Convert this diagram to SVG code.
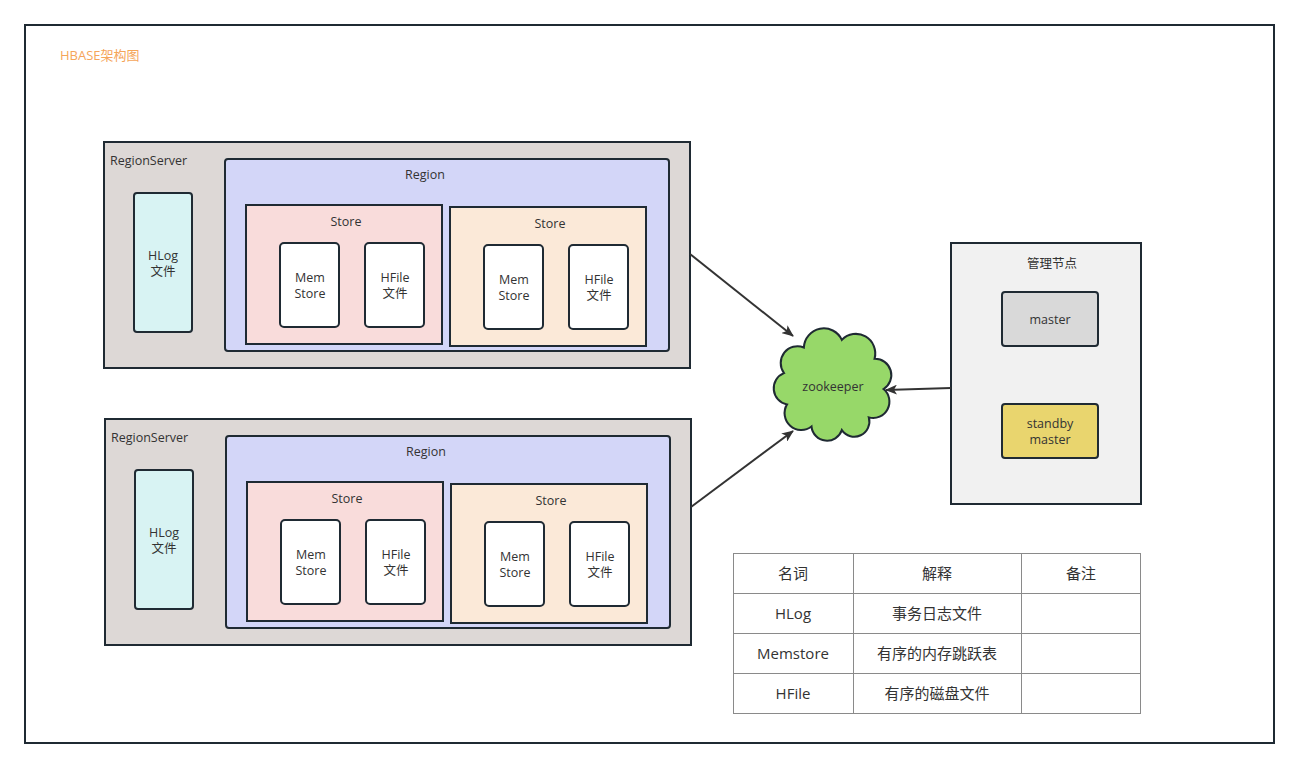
<svg xmlns="http://www.w3.org/2000/svg" width="1299" height="767" viewBox="0 0 1299 767">
<style>
text{font-family:"Open Sans","Noto Sans CJK SC",sans-serif;fill:#333;font-size:12.5px;text-anchor:middle}
.frame{fill:#fff;stroke:#1f2a33;stroke-width:2}
.rs{fill:#ddd8d6;stroke:#1f2a33;stroke-width:2}
.hlog{fill:#d8f3f3;stroke:#1f2a33;stroke-width:2}
.region{fill:#d3d6f8;stroke:#1f2a33;stroke-width:2}
.store1{fill:#f9dcdb;stroke:#1f2a33;stroke-width:2}
.store2{fill:#fbe9d8;stroke:#1f2a33;stroke-width:2}
.box{fill:#fff;stroke:#1f2a33;stroke-width:2}
.mgmt{fill:#f1f1f1;stroke:#1f2a33;stroke-width:2}
.conn{fill:none;stroke:#333;stroke-width:2}
.tbl{fill:none;stroke:#8a8a8a;stroke-width:1}
.tt{font-size:15px}
.l{text-anchor:start}
</style>
<defs>
<marker id="arr" viewBox="0 0 12 10" refX="11" refY="5" markerWidth="6" markerHeight="5" orient="auto" markerUnits="strokeWidth">
<path d="M0,0 L12,5 L0,10 L3,5 Z" fill="#333"/>
</marker>
</defs>
<rect class="frame" x="25" y="25" width="1249" height="718"/>
<text x="60" y="60" class="l" style="fill:#f5a55a;font-size:13px">HBASE架构图</text>

<g id="regionserver1">
<rect class="rs" x="104" y="142" width="586" height="226"/>
<text x="110" y="165" class="l">RegionServer</text>
<rect class="hlog" x="134" y="193" width="58" height="139" rx="3"/>
<text x="163" y="260">HLog</text><text x="163" y="276">文件</text>
<rect class="region" x="225" y="159" width="444" height="192" rx="3"/>
<text x="425" y="179">Region</text>
<rect class="store1" x="246" y="205" width="196" height="139"/>
<text x="346" y="226">Store</text>
<rect class="box" x="280" y="243" width="59" height="84" rx="4"/>
<text x="310" y="282">Mem</text><text x="310" y="298">Store</text>
<rect class="box" x="365" y="243" width="59" height="84" rx="4"/>
<text x="395" y="282">HFile</text><text x="395" y="298">文件</text>
<rect class="store2" x="450" y="207" width="196" height="139"/>
<text x="550" y="228">Store</text>
<rect class="box" x="484" y="245" width="59" height="84" rx="4"/>
<text x="514" y="284">Mem</text><text x="514" y="300">Store</text>
<rect class="box" x="569" y="245" width="59" height="84" rx="4"/>
<text x="599" y="284">HFile</text><text x="599" y="300">文件</text>
</g>

<g id="regionserver2" transform="translate(1,277)">
<rect class="rs" x="104" y="142" width="586" height="226"/>
<text x="110" y="165" class="l">RegionServer</text>
<rect class="hlog" x="134" y="193" width="58" height="139" rx="3"/>
<text x="163" y="260">HLog</text><text x="163" y="276">文件</text>
<rect class="region" x="225" y="159" width="444" height="192" rx="3"/>
<text x="425" y="179">Region</text>
<rect class="store1" x="246" y="205" width="196" height="139"/>
<text x="346" y="226">Store</text>
<rect class="box" x="280" y="243" width="59" height="84" rx="4"/>
<text x="310" y="282">Mem</text><text x="310" y="298">Store</text>
<rect class="box" x="365" y="243" width="59" height="84" rx="4"/>
<text x="395" y="282">HFile</text><text x="395" y="298">文件</text>
<rect class="store2" x="450" y="207" width="196" height="139"/>
<text x="550" y="228">Store</text>
<rect class="box" x="484" y="245" width="59" height="84" rx="4"/>
<text x="514" y="284">Mem</text><text x="514" y="300">Store</text>
<rect class="box" x="569" y="245" width="59" height="84" rx="4"/>
<text x="599" y="284">HFile</text><text x="599" y="300">文件</text>
</g>

<g id="zookeeper">
<path transform="translate(833,385) scale(1.08,1.09) translate(-833,-385)" d="M806,350.6 A18.5,18.5 0 0 1 841.2,343.6 A18,18 0 0 1 871.5,360.9 A15,15 0 0 1 879.8,388.7 A15,15 0 0 1 866.2,414.7 A14,14 0 0 1 841.2,426.4 A14.5,14.5 0 0 1 813.1,423.1 A15.5,15.5 0 0 1 790.4,402.8 A15,15 0 0 1 787.6,374.1 A15.5,15.5 0 0 1 806,350.6 Z" fill="#97d869" stroke="#1f2a33" stroke-width="1.9"/>
<text x="833" y="391">zookeeper</text>
</g>

<g id="mgmt">
<rect class="mgmt" x="951" y="243" width="190" height="261"/>
<text x="1052" y="268">管理节点</text>
<rect x="1002" y="292" width="96" height="54" rx="3" fill="#d9d9d9" stroke="#1f2a33" stroke-width="2"/>
<text x="1050" y="324">master</text>
<rect x="1002" y="404" width="96" height="54" rx="3" fill="#e9d56e" stroke="#1f2a33" stroke-width="2"/>
<text x="1050" y="428">standby</text><text x="1050" y="444">master</text>
</g>

<g id="connectors">
<line class="conn" x1="690" y1="254" x2="793" y2="336" marker-end="url(#arr)"/>
<line class="conn" x1="691" y1="507" x2="793" y2="431" marker-end="url(#arr)"/>
<line class="conn" x1="951" y1="388" x2="886" y2="390" marker-end="url(#arr)"/>
</g>

<g id="table">
<rect class="tbl" x="733.5" y="553.5" width="407" height="160"/>
<line class="tbl" x1="853.5" y1="553.5" x2="853.5" y2="713.5"/>
<line class="tbl" x1="1021.5" y1="553.5" x2="1021.5" y2="713.5"/>
<line class="tbl" x1="733.5" y1="593.5" x2="1140.5" y2="593.5"/>
<line class="tbl" x1="733.5" y1="633.5" x2="1140.5" y2="633.5"/>
<line class="tbl" x1="733.5" y1="673.5" x2="1140.5" y2="673.5"/>
<text class="tt" x="793" y="579">名词</text>
<text class="tt" x="937" y="579">解释</text>
<text class="tt" x="1081" y="579">备注</text>
<text class="tt" x="793" y="619">HLog</text>
<text class="tt" x="937" y="619">事务日志文件</text>
<text class="tt" x="793" y="659">Memstore</text>
<text class="tt" x="937" y="659">有序的内存跳跃表</text>
<text class="tt" x="793" y="699">HFile</text>
<text class="tt" x="937" y="699">有序的磁盘文件</text>
</g>
</svg>
